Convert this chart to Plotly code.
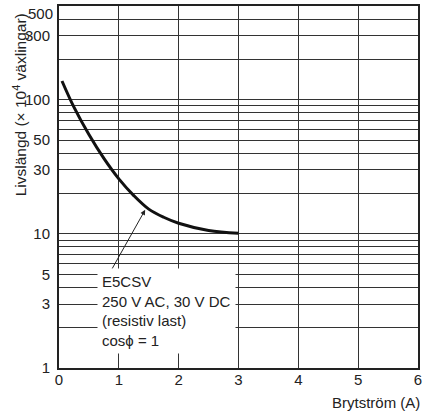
import math
import plotly.graph_objects as go

# Data
current_a = [0.05, 0.25, 0.5, 0.75, 1.0, 1.25, 1.5, 1.75, 2.0, 2.5, 3.0]
life_1e4 = [138, 88, 55, 36.5, 25.7, 19.3, 15.3, 13.3, 12.0, 10.6, 10.1]

x_ticks = [0, 1, 2, 3, 4, 5, 6]
y_grid = [1, 2, 3, 4, 5, 6, 7, 8, 9, 10, 20, 30, 40, 50, 60, 70, 80, 90,
          100, 200, 300, 400, 500]
y_labeled = [1, 3, 5, 10, 30, 50, 100, 300, 500]
y_top_label = 500  # drawn nudged down, as in the reference
y_ticktext = [str(v) if (v in y_labeled and v != y_top_label) else ""
              for v in y_grid]

label_text = "E5CSV<br>250 V AC, 30 V DC<br>(resistiv last)<br>cosϕ = 1"
arrow_head = (1.44, 15.1)
arrow_tail = (0.873, 5.35)
box_anchor = (0.63, 5.6)

FONT = "Liberation Sans, Arial, Helvetica, sans-serif"

fig = go.Figure()
fig.add_trace(go.Scatter(
    x=current_a, y=life_1e4, mode="lines",
    line=dict(color="#111111", width=3, shape="spline"),
    hoverinfo="skip", showlegend=False,
))

fig.update_layout(
    width=426, height=416,
    margin=dict(l=59, r=4, t=5, b=48),
    paper_bgcolor="white", plot_bgcolor="white",
    font=dict(family=FONT, size=15, color="#222222"),
    showlegend=False,
)
fig.update_xaxes(
    range=[0, 6], tickvals=x_ticks, ticktext=[str(v) for v in x_ticks],
    showgrid=True, gridcolor="#333333", gridwidth=1,
    showline=True, linecolor="#222222", linewidth=2, mirror=True,
    ticks="", zeroline=False, tickfont=dict(size=15),
    ticklabelstandoff=-3,
)
fig.update_yaxes(
    type="log", range=[0, math.log10(500)],
    tickvals=y_grid, ticktext=y_ticktext,
    showgrid=True, gridcolor="#333333", gridwidth=1,
    showline=True, linecolor="#222222", linewidth=2, mirror=True,
    ticks="", zeroline=False, tickfont=dict(size=15),
    ticklabelstandoff=4,
)

fig.add_annotation(
    x=0, y=math.log10(y_top_label), xref="paper", yref="y",
    text=str(y_top_label), showarrow=False, xanchor="right",
    yanchor="middle", xshift=-4, yshift=-7,
    font=dict(size=15, color="#222222"),
)
fig.add_annotation(
    x=arrow_head[0], y=math.log10(arrow_head[1]),
    ax=arrow_tail[0], ay=math.log10(arrow_tail[1]),
    xref="x", yref="y", axref="x", ayref="y",
    text="", showarrow=True, arrowhead=2, arrowsize=1, arrowwidth=1,
    arrowcolor="#222222",
)
fig.add_annotation(
    x=box_anchor[0], y=math.log10(box_anchor[1]), xref="x", yref="y",
    xanchor="left", yanchor="top", align="left",
    text=label_text, showarrow=False, bgcolor="white", borderpad=4,
    font=dict(size=15, color="#222222"),
)
fig.add_annotation(
    x=-0.11, y=0.727, xref="paper", yref="paper",
    text="Livslängd (× 10<sup>4</sup> växlingar)", textangle=-90,
    showarrow=False, xanchor="center", yanchor="middle",
    font=dict(size=15.5, color="#222222"),
)
fig.add_annotation(
    x=1.01, y=-0.096, xref="paper", yref="paper",
    text="Brytström (A)", showarrow=False,
    xanchor="right", yanchor="middle",
    font=dict(size=15, color="#222222"),
)

fig.write_html(
    "out.html",
    config={"displayModeBar": False},
    post_script="document.body.style.margin='0';document.body.style.overflow='hidden';",
)
